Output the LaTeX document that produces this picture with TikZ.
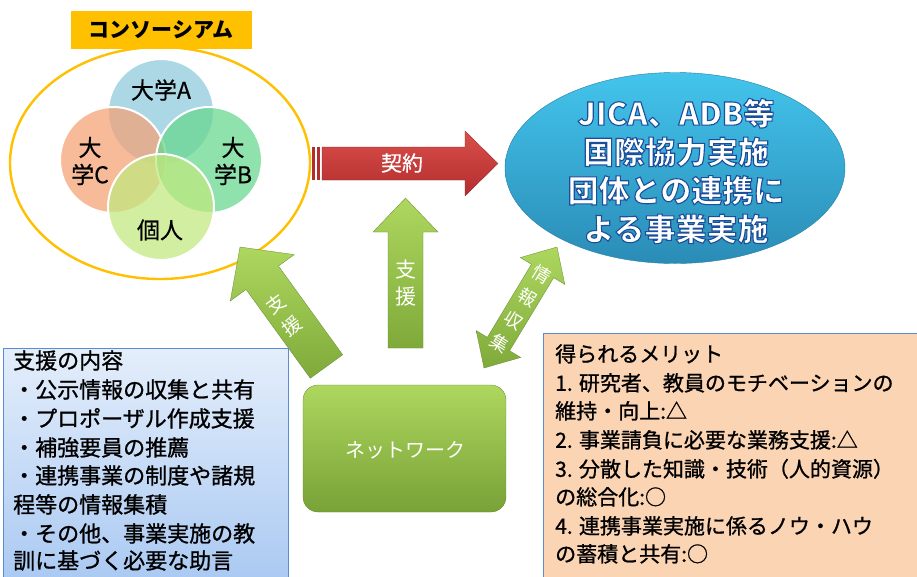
\documentclass[tikz,border=0pt]{standalone}
\usepackage{fontspec}
\setmainfont{Noto Sans CJK JP}
\newfontfamily\jpheavy{Noto Sans CJK JP}[FakeBold=1]
\newfontfamily\jpmid{Noto Sans CJK JP}[FakeBold=0.5]
\usetikzlibrary{calc,shapes.geometric}
\definecolor{consline}{HTML}{FFC000}
\definecolor{circA}{HTML}{8CC8DC}
\definecolor{circB}{HTML}{66D88E}
\definecolor{circC}{HTML}{F4A174}
\definecolor{circP}{HTML}{C0E87E}
\definecolor{redtop}{HTML}{DA4E4A}
\definecolor{redbot}{HTML}{B22E2E}
\definecolor{grtop}{HTML}{ADD75E}
\definecolor{grbot}{HTML}{7FAA3A}
\definecolor{bltop}{HTML}{43C4EC}
\definecolor{blbot}{HTML}{2A8CB6}
\definecolor{lbtop}{HTML}{E4EEFB}
\definecolor{lbbot}{HTML}{A8C8F2}
\definecolor{boxline}{HTML}{5B8BD0}
\definecolor{peach}{HTML}{FBD4B4}
\newcommand\fatarrow[6]{%
  \coordinate (ba-b) at ($(#2)!#5!(#1)$);
  \path[#6] ($(#1)!#3!90:(#2)$) -- ($(ba-b)!#3!-90:(#1)$) -- ($(ba-b)!#4!-90:(#1)$) -- (#2)
    -- ($(ba-b)!#4!90:(#1)$) -- ($(ba-b)!#3!90:(#1)$) -- ($(#1)!#3!-90:(#2)$) -- cycle;
}
\newcommand\fatdarrow[6]{%
  \coordinate (da-1) at ($(#1)!#5!(#2)$);
  \coordinate (da-2) at ($(#2)!#5!(#1)$);
  \path[#6] (#1) -- ($(da-1)!#4!90:(#2)$) -- ($(da-1)!#3!90:(#2)$) -- ($(da-2)!#3!-90:(#1)$)
    -- ($(da-2)!#4!-90:(#1)$) -- (#2) -- ($(da-2)!#4!90:(#1)$) -- ($(da-2)!#3!90:(#1)$)
    -- ($(da-1)!#3!-90:(#2)$) -- ($(da-1)!#4!-90:(#2)$) -- cycle;
}
\newcommand\outlined[1]{\special{pdf:literal direct 1.1 w 0.106 0.31 0.612 RG 2 Tr}#1\special{pdf:literal direct 0 Tr}}
\begin{document}
\begin{tikzpicture}[x=1pt,y=-1pt,
  venn/.style={circle,minimum size=106pt,draw=white,line width=2pt,fill opacity=0.72,inner sep=0pt},
  vlabel/.style={font=\jpmid\fontsize{23pt}{27pt}\selectfont,inner sep=0pt,align=center},
  greenarrow/.style={top color=grtop,bottom color=grbot,draw=grbot!80!black,line width=0.3pt},
  arrowtext/.style={text=white,inner sep=0pt,align=center},
  txt/.style={anchor=west,inner sep=0pt,text height=0.88em,text depth=0.12em},
  lbtext/.style={txt,font=\jpheavy\fontsize{22pt}{26pt}\selectfont},
  rbtext/.style={txt,font=\jpheavy\fontsize{21pt}{25pt}\selectfont}]
\useasboundingbox (0,0) rectangle (917,576);
\fill[white] (0,0) rectangle (917,576);

% consortium
\node[ellipse,draw=consline,line width=2.4pt,minimum width=300pt,minimum height=232pt,inner sep=0pt] (cons) at (160,163) {};
\node[venn,fill=circA] (uA) at (161,112) {};
\node[venn,fill=circC] (uC) at (113,160) {};
\node[venn,fill=circB] (uB) at (209,160) {};
\node[venn,fill=circP] (ind) at (161,207) {};
\node[vlabel] (tA) at (161,90) {大学A};
\node[vlabel] (tC) at (90,161) {大\\学C};
\node[vlabel] (tB) at (233,161) {大\\学B};
\node[vlabel] (tP) at (160,230) {個人};
\node[fill=consline,minimum width=181pt,minimum height=38pt,inner sep=0pt,font=\bfseries\fontsize{21pt}{24pt}\selectfont] (conslabel) at (161,30) {コンソーシアム};

% partner ellipse
\node[ellipse,top color=bltop,bottom color=blbot,draw=blbot!90!black,line width=0.4pt,minimum width=340pt,minimum height=191pt,inner sep=0pt] (partner) at (675,168) {};

% contract arrow
\coordinate (ctail) at (322,163.5);
\coordinate (ctip) at (498,163.5);
\fill[redbot] (312,147) rectangle (315,180);
\fill[redbot] (317,147) rectangle (320,180);
\fatarrow{ctail}{ctip}{16.5pt}{32.5pt}{33pt}{top color=redtop,bottom color=redbot,draw=redbot!80!black,line width=0.3pt}
\node[arrowtext,font=\jpmid\fontsize{21pt}{24pt}\selectfont] (ctext) at (402,163) {契約};

% network box
\node[rounded corners=15pt,top color=grtop,bottom color=grbot!95!black,draw=grbot!80!black,line width=0.3pt,minimum width=203pt,minimum height=127pt,inner sep=0pt] (net) at (404.5,448.5) {};
\node[text=white,font=\fontsize{20pt}{24pt}\selectfont,inner sep=0pt] (nettext) at (405,450) {ネットワーク};

% support arrows
\coordinate (s1tail) at (326.5,366.5);
\coordinate (s1tip) at (240,247);
\fatarrow{s1tail}{s1tip}{20pt}{39.5pt}{38pt}{greenarrow}
\node[arrowtext,rotate=36,font=\fontsize{19pt}{28pt}\selectfont] (s1text) at (284,315) {支\\援};

\coordinate (s2tail) at (405.5,348);
\coordinate (s2tip) at (405.5,198);
\fatarrow{s2tail}{s2tip}{17.5pt}{32.5pt}{34pt}{greenarrow}
\node[arrowtext,font=\fontsize{21pt}{27pt}\selectfont] (s2text) at (405.5,283) {支\\援};

% info arrow
\coordinate (i1) at (557,247);
\coordinate (i2) at (484,368);
\fatdarrow{i1}{i2}{13pt}{26pt}{28pt}{greenarrow}
\node[arrowtext,rotate=-31.5,font=\fontsize{18pt}{27pt}\selectfont] (itext) at (520.5,309) {情\\報\\収\\集};

% left box
\node[anchor=north west,top color=lbtop,bottom color=lbbot,draw=boxline,line width=0.8pt,minimum width=285pt,minimum height=240pt,inner sep=0pt] (lbox) at (3,348) {};
\node[lbtext] (l1) at (13,365) {支援の内容};
\node[lbtext] (l2) at (13,394) {・公示情報の収集と共有};
\node[lbtext] (l3) at (13,423) {・プロポーザル作成支援};
\node[lbtext] (l4) at (13,452) {・補強要員の推薦};
\node[lbtext] (l5) at (13,480) {・連携事業の制度や諸規};
\node[lbtext] (l6) at (13,509) {程等の情報集積};
\node[lbtext] (l7) at (13,538) {・その他、事業実施の教};
\node[lbtext] (l8) at (13,565) {訓に基づく必要な助言};

% right box
\node[anchor=north west,fill=peach,draw=boxline,line width=0.8pt,minimum width=380pt,minimum height=250pt,inner sep=0pt] (rbox) at (543,333) {};
\node[rbtext] (r1) at (555,358) {得られるメリット};
\node[rbtext] (r2) at (555,387) {1. 研究者、教員のモチベーションの};
\node[rbtext] (r3) at (555,415) {維持・向上:△};
\node[rbtext] (r4) at (555,444) {2. 事業請負に必要な業務支援:△};
\node[rbtext] (r5) at (555,473) {3. 分散した知識・技術（人的資源）};
\node[rbtext] (r6) at (555,501) {の総合化:○};
\node[rbtext] (r7) at (555,530) {4. 連携事業実施に係るノウ・ハウ};
\node[rbtext] (r8) at (555,558) {の蓄積と共有:○};

% partner text (last, outlined)
\node[text=white,inner sep=0pt,align=center,font=\bfseries\fontsize{31pt}{38.5pt}\selectfont] (ptext) at (676,171)
  {\outlined{JICA、ADB等}\\\outlined{国際協力実施}\\\outlined{団体との連携に}\\\outlined{よる事業実施}};
\end{tikzpicture}
\end{document}
